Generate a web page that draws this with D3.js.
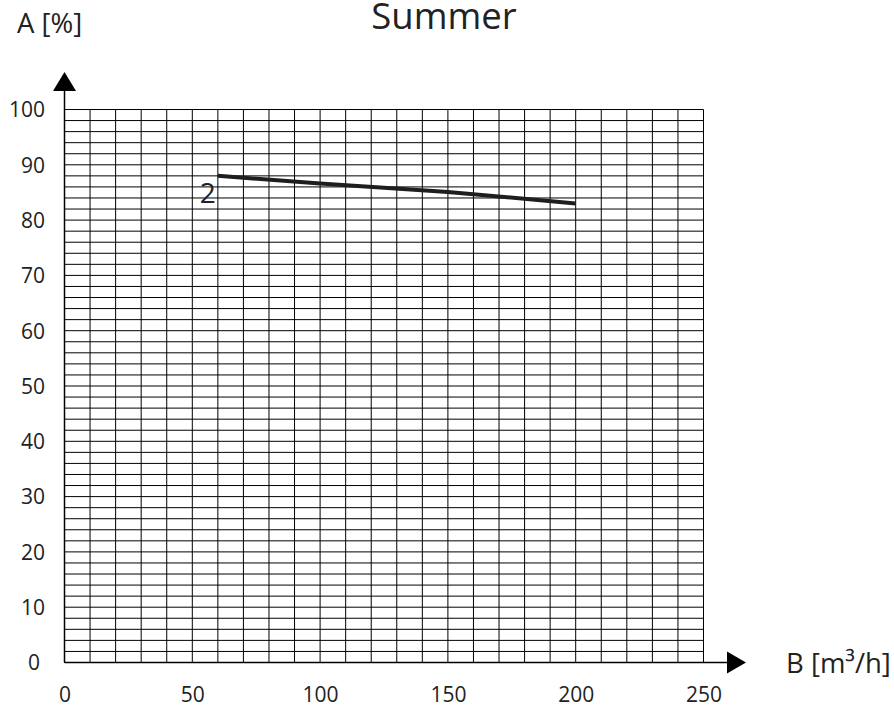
<!DOCTYPE html>
<html>
<head>
<meta charset="utf-8">
<script src="https://cdn.jsdelivr.net/npm/d3@7"></script>
<style>
  html, body { margin: 0; padding: 0; background: #fff; }
  svg { display: block; font-family: "Open Sans", "Noto Sans", sans-serif; }
</style>
</head>
<body>
<svg id="chart" width="894" height="707"></svg>
<script>
// ---- data ----
const chartTitle = "Summer";
const yAxisTitle = "A [%]";
const xAxisTitle = "B [m³/h]";
const xTickValues = [0, 50, 100, 150, 200, 250];
const yTickValues = [0, 10, 20, 30, 40, 50, 60, 70, 80, 90, 100];
const flowB = [60, 100, 150, 200];
const effA = [88, 86.6, 85.1, 83];
const curveLabel = "2";

// ---- layout ----
const x = d3.scaleLinear().domain([0, 250]).range([64.5, 703.5]);
const y = d3.scaleLinear().domain([0, 100]).range([662.5, 109.5]);

const svg = d3.select("#chart");

// grid
const grid = svg.append("g").attr("class", "grid");
const vGrid = d3.range(0, 251, 10);
const hGrid = d3.range(0, 101, 2);
grid.selectAll("line.v").data(vGrid).join("line")
  .attr("class", "v")
  .attr("x1", d => x(d)).attr("x2", d => x(d))
  .attr("y1", y(0)).attr("y2", y(100))
  .attr("stroke", "#000").attr("stroke-width", 1);
grid.selectAll("line.h").data(hGrid).join("line")
  .attr("class", "h")
  .attr("x1", x(0)).attr("x2", x(250))
  .attr("y1", d => y(d)).attr("y2", d => y(d))
  .attr("stroke", "#000").attr("stroke-width", 1);

// axis lines with arrows
const axisG = svg.append("g");
axisG.append("line")
  .attr("x1", x(0)).attr("x2", 728)
  .attr("y1", y(0)).attr("y2", y(0))
  .attr("stroke", "#000").attr("stroke-width", 1.5);
axisG.append("path")
  .attr("d", `M727,${y(0) - 11}L746,${y(0)}L727,${y(0) + 11}Z`)
  .attr("fill", "#000");
axisG.append("line")
  .attr("x1", x(0)).attr("x2", x(0))
  .attr("y1", y(0)).attr("y2", 90)
  .attr("stroke", "#000").attr("stroke-width", 1.5);
axisG.append("path")
  .attr("d", `M${x(0) - 11.5},91L${x(0)},72L${x(0) + 11.5},91Z`)
  .attr("fill", "#000");

// tick labels via d3 axes
const xAxis = d3.axisBottom(x).tickValues(xTickValues).tickSize(0).tickPadding(0).tickFormat(d3.format("d"));
const xg = svg.append("g").attr("transform", `translate(0,${y(0)})`).call(xAxis);
xg.select(".domain").remove();
xg.selectAll("text")
  .attr("dy", null).attr("y", 39.5)
  .attr("font-size", 21).attr("font-family", "'Open Sans', sans-serif").attr("fill", "#222");

const yAxis = d3.axisLeft(y).tickValues(yTickValues).tickSize(0).tickPadding(0).tickFormat(d3.format("d"));
const yg = svg.append("g").attr("transform", `translate(45,0)`).call(yAxis);
yg.select(".domain").remove();
yg.selectAll("text")
  .attr("x", d => d === 0 ? -5 : 0).attr("dy", "0.35em")
  .attr("font-size", 21).attr("font-family", "'Open Sans', sans-serif").attr("fill", "#222");

// data line
const line = d3.line().x((d, i) => x(flowB[i])).y(d => y(d));
svg.append("path")
  .datum(effA)
  .attr("d", line)
  .attr("fill", "none")
  .attr("stroke", "#1e1e1e")
  .attr("stroke-width", 4);

// curve label
svg.append("text")
  .attr("x", x(flowB[0]) - 18).attr("y", y(effA[0]) + 27)
  .attr("font-size", 28).attr("fill", "#222")
  .text(curveLabel);

// titles
svg.append("text")
  .attr("x", 444).attr("y", 29)
  .attr("text-anchor", "middle")
  .attr("font-size", 36.5).attr("fill", "#222")
  .text(chartTitle);
svg.append("text")
  .attr("x", 17).attr("y", 33)
  .attr("font-size", 27.5).attr("fill", "#222")
  .text(yAxisTitle);
svg.append("text")
  .attr("x", 786).attr("y", 673)
  .attr("font-size", 27.5).attr("fill", "#222")
  .text(xAxisTitle);
</script>
</body>
</html>
